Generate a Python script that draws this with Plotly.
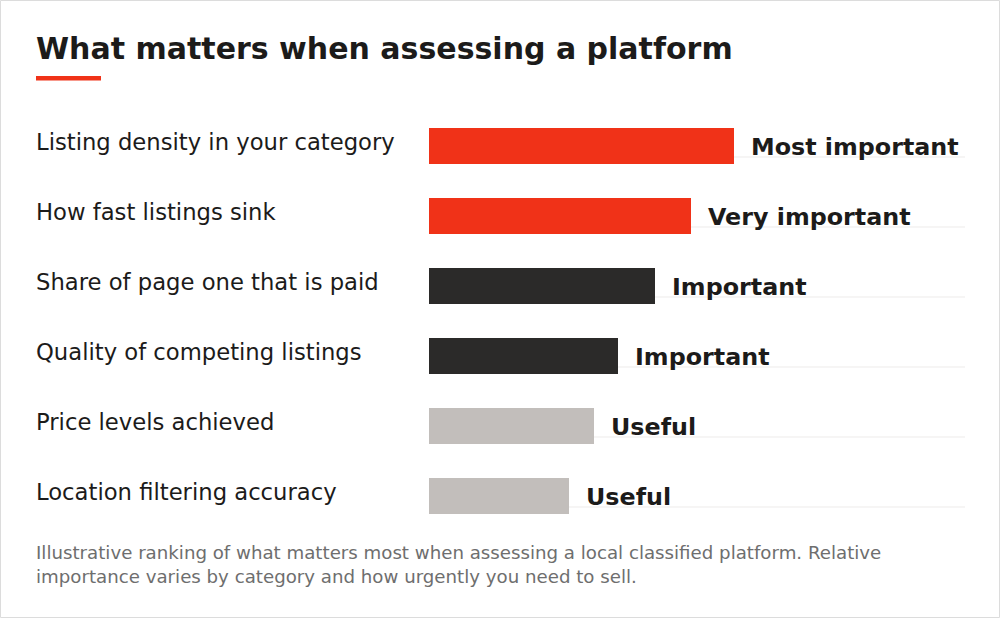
import plotly.graph_objects as go

# ---- data ----
categories = [
    "Listing density in your category",
    "How fast listings sink",
    "Share of page one that is paid",
    "Quality of competing listings",
    "Price levels achieved",
    "Location filtering accuracy",
]
scores = [100, 86, 74, 62, 54, 46]
value_labels = ["Most important", "Very important", "Important", "Important", "Useful", "Useful"]
tiers = ["top", "top", "mid", "mid", "low", "low"]

title_text = "What matters when assessing a platform"
note_text = ("Illustrative ranking of what matters most when assessing a local classified platform. Relative<br>"
             "importance varies by category and how urgently you need to sell.")

# ---- styling ----
W, H = 1000, 618
ML, MR, MT, MB = 429, 35, 111, 87
XMAX = 175.7
tier_colors = {"top": "#F03218", "mid": "#2B2A29", "low": "#C2BEBB"}
TXT = "#1C1B1A"
FONT = "DejaVu Sans"

pw = W - ML - MR
ph = H - MT - MB


def px_x(px):
    return (px - ML) / pw


def px_y(py):
    return (H - MB - py) / ph


idx = list(range(len(categories)))

fig = go.Figure(go.Bar(
    x=scores,
    y=idx,
    orientation="h",
    width=0.52,
    marker=dict(color=[tier_colors[t] for t in tiers], line=dict(width=0)),
    hoverinfo="skip",
))

shapes = []
# faint row lines
for i in idx:
    shapes.append(dict(type="line", xref="x", yref="y", x0=0, x1=XMAX, y0=i + 0.157, y1=i + 0.157,
                       line=dict(color="#EDEBEA", width=1), layer="below"))
# red accent under title
shapes.append(dict(type="rect", xref="paper", yref="paper", x0=px_x(36), x1=px_x(101),
                   y0=px_y(80.5), y1=px_y(76), fillcolor="#F03218", line=dict(width=0)))
# outer border
shapes.append(dict(type="rect", xref="paper", yref="paper", x0=px_x(0.5), x1=px_x(999.5),
                   y0=px_y(617.5), y1=px_y(0.5), line=dict(color="#DCDCDC", width=1)))

annotations = []
for i, c in zip(idx, categories):
    annotations.append(dict(text=c, xref="paper", x=px_x(36), xanchor="left", xshift=-2, yref="y", y=i,
                            yshift=4, showarrow=False, font=dict(family=FONT, size=22.7, color=TXT)))
for i, v, lab in zip(idx, scores, value_labels):
    annotations.append(dict(text=lab, xref="x", x=v, xanchor="left", xshift=15, yref="y", y=i,
                            yshift=-1, showarrow=False,
                            font=dict(family=FONT, size=23.8, color=TXT, weight="bold")))
annotations.append(dict(text=note_text, xref="paper", x=px_x(36), xanchor="left", xshift=-2, yref="paper",
                        y=px_y(540), yanchor="top", align="left", showarrow=False,
                        font=dict(family=FONT, size=18.2, color="#6E6E6E")))

fig.update_layout(
    width=W, height=H,
    margin=dict(l=ML, r=MR, t=MT, b=MB, pad=0),
    paper_bgcolor="white", plot_bgcolor="white",
    title=dict(text=title_text, x=36 / W, xanchor="left", xref="container",
               y=1 - 48.5 / H, yanchor="middle", yref="container",
               font=dict(family=FONT, size=30, color=TXT, weight="bold")),
    xaxis=dict(range=[0, XMAX], visible=False, fixedrange=True),
    yaxis=dict(range=[len(categories) - 0.5, -0.5], visible=False, fixedrange=True),
    shapes=shapes,
    annotations=annotations,
    showlegend=False,
    bargap=0,
    hovermode=False,
)

fig.write_html("out.html", config={"displayModeBar": False},
               post_script="document.body.style.margin='0';document.body.style.padding='0';")
